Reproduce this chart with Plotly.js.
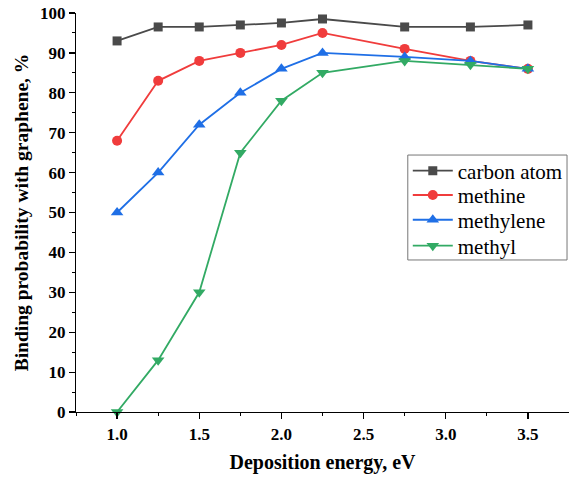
<!DOCTYPE html>
<html>
<head>
<meta charset="utf-8">
<script src="https://cdn.plot.ly/plotly-3.0.1.min.js"></script>
<style>html,body{margin:0;padding:0;background:#fff;}#chart{width:569px;height:479px;}</style>
</head>
<body>
<div id="chart"></div>
<script>
var energy = [1.0, 1.25, 1.5, 1.75, 2.0, 2.25, 2.75, 3.15, 3.5];
var carbonAtom = [93, 96.5, 96.5, 97, 97.5, 98.5, 96.5, 96.5, 97];
var methine = [68, 83, 88, 90, 92, 95, 91, 88, 86];
var methylene = [50, 60, 72, 80, 86, 90, 89, 88, 86];
var methyl = [0, 13, 30, 65, 78, 85, 88, 87, 86];
var seriesNames = ["carbon atom", "methine", "methylene", "methyl"];
var xTicks = [1.0, 1.5, 2.0, 2.5, 3.0, 3.5];
var xTickText = ["1.0", "1.5", "2.0", "2.5", "3.0", "3.5"];

var colors = ["#4a4a4a", "#f03c3c", "#1f6fe6", "#32aa64"];
var symbols = ["square", "circle", "triangle-up", "triangle-down"];
var msizes = [9, 10, 11, 11];
var legendIds = ["legend", "legend2", "legend3", "legend4"];
var legendY = [0.604, 0.543, 0.481, 0.416];
var ys = [carbonAtom, methine, methylene, methyl];

var traces = ys.map(function (y, i) {
  return {
    x: energy, y: y, name: seriesNames[i], type: "scatter", mode: "lines+markers",
    line: {color: colors[i], width: 1.8},
    marker: {color: colors[i], symbol: symbols[i], size: msizes[i]},
    cliponaxis: false, legend: legendIds[i]
  };
});

var serif = "Liberation Serif, Times New Roman, serif";
var layout = {
  width: 569, height: 479,
  margin: {l: 76, r: 0, t: 13, b: 67},
  paper_bgcolor: "#fff", plot_bgcolor: "#fff",
  font: {family: serif, color: "#000"},
  showlegend: true,
  shapes: [{type: "rect", xref: "paper", yref: "paper", x0: 0.673, x1: 0.996, y0: 0.381, y1: 0.644,
            line: {color: "#777", width: 1}, fillcolor: "rgba(0,0,0,0)", layer: "below"}],
  xaxis: {
    range: [0.75, 3.75], tickvals: xTicks, ticktext: xTickText,
    showgrid: false, zeroline: false, showline: true, linecolor: "#000", linewidth: 1.2,
    ticks: "outside", ticklen: 6, tickwidth: 1.2, tickcolor: "#000",
    minor: {dtick: 0.25, ticks: "outside", ticklen: 3, tickwidth: 1, tickcolor: "#000", showgrid: false},
    tickfont: {family: serif, size: 17, color: "#000", weight: "bold"},
    title: {text: "<b>Deposition energy, eV</b>", font: {family: serif, size: 20, color: "#000"}, standoff: 12}
  },
  yaxis: {
    range: [0, 100], dtick: 10,
    showgrid: false, zeroline: false, showline: true, linecolor: "#000", linewidth: 1.2,
    ticks: "outside", ticklen: 6, tickwidth: 1.2, tickcolor: "#000",
    minor: {dtick: 5, ticks: "outside", ticklen: 3, tickwidth: 1, tickcolor: "#000", showgrid: false},
    tickfont: {family: serif, size: 17, color: "#000", weight: "bold"},
    title: {text: "<b>Binding probability with graphene, %</b>", font: {family: serif, size: 19.5, color: "#000"}, standoff: 6}
  }
};
legendIds.forEach(function (id, i) {
  layout[id] = {
    x: 0.673, y: legendY[i], xanchor: "left", yanchor: "middle",
    borderwidth: 0, bgcolor: "rgba(0,0,0,0)",
    font: {family: serif, size: 21, color: "#000"}, itemwidth: 40
  };
});
Plotly.newPlot("chart", traces, layout, {displayModeBar: false, staticPlot: true});
</script>
</body>
</html>
